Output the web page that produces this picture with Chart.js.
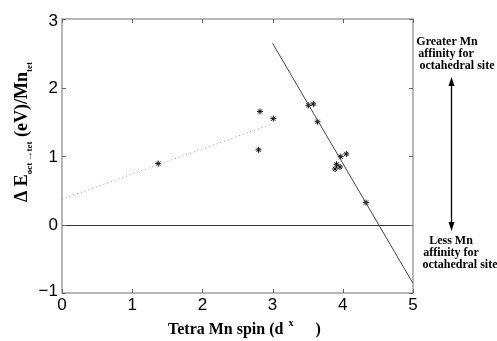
<!DOCTYPE html>
<html>
<head>
<meta charset="utf-8">
<script src="https://cdn.jsdelivr.net/npm/chart.js@4"></script>
<style>
  html, body { margin: 0; padding: 0; background: #fff; }
  #wrap { width: 497px; height: 341px; position: relative; }
</style>
</head>
<body>
<div id="wrap"><canvas id="chart"></canvas></div>
<script>
// DATA
const spinLow = [1.37, 2.8, 2.82, 3.01];
const energyLow = [0.89, 1.09, 1.65, 1.545];
const spinHigh = [3.51, 3.58, 3.64, 3.89, 3.91, 3.96, 3.97, 4.05, 4.33];
const energyHigh = [1.74, 1.76, 1.50, 0.81, 0.88, 0.84, 0.99, 1.03, 0.32];
const fitLowX = [0, 3.0];
const fitLowY = [0.37, 1.47];
const fitHighX = [3.0, 5.0];
const fitHighY = [2.645, -0.86];
const xTicks = [0, 1, 2, 3, 4, 5];
const yTicks = [-1, 0, 1, 2, 3];

const toPts = (xs, ys) => xs.map((x, i) => ({ x: x, y: ys[i] }));

const TICK_FONT = "17px 'Liberation Sans', Arial, sans-serif";
const SERIF_B = "bold 16px 'Liberation Serif', 'Times New Roman', serif";
const YT_FONT = "bold 18px 'Liberation Serif', 'Times New Roman', serif";
const SUB_FONT = "bold 9px 'Liberation Serif', serif";

// frame, inner ticks, zero line, labels, side annotation
const decor = {
  id: "decor",
  afterDraw(chart) {
    const ctx = chart.ctx;
    const a = chart.chartArea;
    const xs = chart.scales.x, ys = chart.scales.y;
    ctx.save();
    // zero line
    ctx.strokeStyle = "#333";
    ctx.lineWidth = 1;
    const y0 = Math.round(ys.getPixelForValue(0)) + 0.5;
    ctx.beginPath();
    ctx.moveTo(a.left, y0);
    ctx.lineTo(a.right, y0);
    ctx.stroke();
    // frame
    ctx.strokeStyle = "#888";
    ctx.lineWidth = 1.2;
    ctx.strokeRect(a.left, a.top, a.right - a.left, a.bottom - a.top);
    // ticks inward
    ctx.lineWidth = 1;
    ctx.strokeStyle = "#666";
    xTicks.forEach(v => {
      const px = Math.round(xs.getPixelForValue(v)) + 0.5;
      ctx.beginPath();
      ctx.moveTo(px, a.bottom); ctx.lineTo(px, a.bottom - 4);
      ctx.moveTo(px, a.top); ctx.lineTo(px, a.top + 4);
      ctx.stroke();
    });
    yTicks.forEach(v => {
      const py = Math.round(ys.getPixelForValue(v)) + 0.5;
      ctx.beginPath();
      ctx.moveTo(a.left, py); ctx.lineTo(a.left + 4, py);
      ctx.moveTo(a.right, py); ctx.lineTo(a.right - 4, py);
      ctx.stroke();
    });
    // tick labels
    ctx.fillStyle = "#000";
    ctx.font = TICK_FONT;
    ctx.textAlign = "center";
    ctx.textBaseline = "middle";
    xTicks.forEach(v => {
      ctx.fillText(String(v), xs.getPixelForValue(v), a.bottom + 12);
    });
    ctx.textAlign = "right";
    yTicks.forEach(v => {
      const lbl = v < 0 ? "\u2212" + Math.abs(v) : String(v);
      const dy = v === 3 ? 2 : (v === -1 ? -2 : 1);
      ctx.fillText(lbl, a.left - 4, ys.getPixelForValue(v) + dy);
    });
    // x title
    ctx.textAlign = "left";
    ctx.textBaseline = "alphabetic";
    ctx.font = SERIF_B;
    const t1 = "Tetra Mn spin (d";
    const w1 = ctx.measureText(t1).width;
    const sx = 168;
    ctx.fillText(t1, sx, 334);
    ctx.font = "bold 10px 'Liberation Serif', serif";
    ctx.fillText("x", sx + w1 + 5, 326);
    ctx.font = SERIF_B;
    ctx.fillText(")", sx + w1 + 32, 334);
    // y title (rotated)
    ctx.save();
    ctx.translate(21, (a.top + a.bottom) / 2 - 24);
    ctx.rotate(-Math.PI / 2);
    const parts = [
      ["\u0394 E", YT_FONT, 0],
      ["oct \u2192tet", SUB_FONT, 5],
      [" (eV)/Mn", YT_FONT, 0],
      ["tet", SUB_FONT, 5]
    ];
    let tw = 0;
    parts.forEach(p => { ctx.font = p[1]; tw += ctx.measureText(p[0]).width; });
    let cx = -tw / 2;
    parts.forEach(p => {
      ctx.font = p[1];
      ctx.fillText(p[0], cx, 6 + p[2]);
      cx += ctx.measureText(p[0]).width;
    });
    ctx.restore();
    // side annotation
    ctx.font = "bold 12px 'Liberation Serif', 'Times New Roman', serif";
    ctx.textAlign = "center";
    ctx.textBaseline = "middle";
    const topLines = [["Greater Mn", 447, 42], ["affinity for", 446, 54], ["octahedral site", 457, 66]];
    const botLines = [["Less Mn", 451, 241], ["affinity for", 451, 253], ["octahedral site", 460, 265]];
    topLines.concat(botLines).forEach(l => ctx.fillText(l[0], l[1], l[2]));
    const ax = 451.5, top = 77, bot = 231;
    ctx.strokeStyle = "#000";
    ctx.lineWidth = 1.3;
    ctx.beginPath();
    ctx.moveTo(ax, top + 6); ctx.lineTo(ax, bot - 6);
    ctx.stroke();
    ctx.beginPath();
    ctx.moveTo(ax, top); ctx.lineTo(ax - 3, top + 9); ctx.lineTo(ax + 3, top + 9); ctx.closePath();
    ctx.moveTo(ax, bot); ctx.lineTo(ax - 3, bot - 9); ctx.lineTo(ax + 3, bot - 9); ctx.closePath();
    ctx.fillStyle = "#000";
    ctx.fill();
    ctx.restore();
  }
};

new Chart(document.getElementById("chart"), {
  type: "scatter",
  data: {
    datasets: [
      {
        data: toPts(fitLowX, fitLowY),
        showLine: true,
        borderColor: "#999",
        borderWidth: 1,
        borderDash: [1, 3],
        pointRadius: 0
      },
      {
        data: toPts(fitHighX, fitHighY),
        showLine: true,
        borderColor: "#444",
        borderWidth: 1,
        pointRadius: 0
      },
      {
        data: toPts(spinLow, energyLow),
        pointStyle: "star",
        pointRadius: 3,
        borderColor: "#111",
        borderWidth: 1
      },
      {
        data: toPts(spinHigh, energyHigh),
        pointStyle: "star",
        pointRadius: 3,
        borderColor: "#111",
        borderWidth: 1
      }
    ]
  },
  options: {
    responsive: true,
    maintainAspectRatio: false,
    animation: false,
    layout: { padding: { left: 0, right: 84, top: 19, bottom: 0 } },
    plugins: { legend: { display: false }, tooltip: { enabled: false } },
    scales: {
      x: {
        type: "linear",
        min: 0, max: 5,
        grid: { display: false },
        border: { display: false },
        ticks: { display: false },
        afterFit: s => { s.height = 48; }
      },
      y: {
        type: "linear",
        min: -1, max: 3,
        grid: { display: false },
        border: { display: false },
        ticks: { display: false },
        afterFit: s => { s.width = 62; }
      }
    }
  },
  plugins: [decor]
});
</script>
</body>
</html>
